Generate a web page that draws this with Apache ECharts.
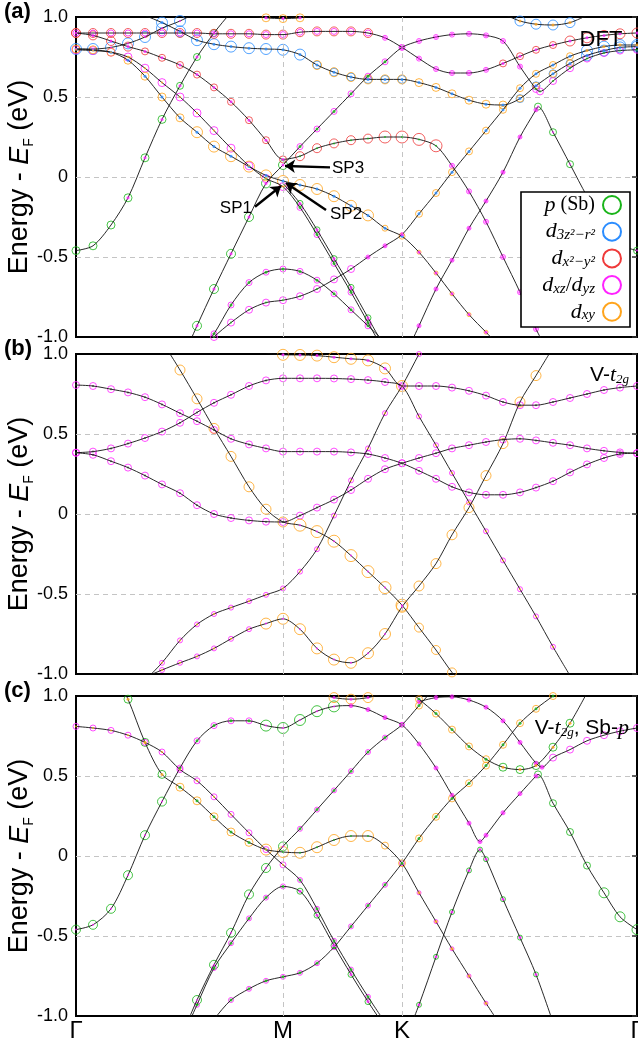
<!DOCTYPE html>
<html>
<head>
<meta charset="utf-8">
<script src="https://cdn.jsdelivr.net/npm/echarts@6/dist/echarts.min.js"></script>
<style>
  html, body { margin: 0; padding: 0; background: #fff; }
  #chart { width: 638px; height: 1040px; }
</style>
</head>
<body>
<div id="chart"></div>
<script>
// k-path: Γ -> M -> K -> Γ, sampled on a common grid (path length units)
var kGrid = [0, 17, 35, 52, 69, 86, 104, 121, 138, 155, 173, 190, 207,
             224, 241, 258, 275, 292, 309, 326,
             343, 360, 376, 393, 410, 427, 444, 460, 477, 494, 511, 528, 544, 561];
var kTicks = [0, 207, 326, 561];
var kTickNames = ['Γ', 'M', 'K', 'Γ'];
var eTicks = [-1, -0.5, 0, 0.5, 1];

// put read values on the grid starting at index `start`
function seg(start, vals) {
  var a = kGrid.map(function () { return null; });
  vals.forEach(function (v, i) { a[start + i] = v; });
  return a;
}

// ---------- (a) DFT ----------
var aG1 = seg(0, [-0.46, -0.43, -0.30, -0.13, 0.12, 0.36, 0.57, 0.75, 0.90, 1.03, 1.16]);
var aG2 = seg(6, [-1.17, -0.93, -0.70, -0.48, -0.25, -0.04, 0.075, 0.19, 0.30, 0.41, 0.52, 0.63, 0.72, 0.81,
                  0.85, 0.875, 0.89, 0.895, 0.885, 0.85, 0.69, 0.55, 0.60, 0.68, 0.74, 0.775, 0.79, 0.795]);
var aG2X = [[464, 0.535]];
var aR2 = seg(0, [0.90, 0.885, 0.85, 0.815, 0.785, 0.745, 0.70, 0.64, 0.56, 0.47, 0.355, 0.23, 0.11,
                  0.13, 0.18, 0.21, 0.23, 0.24, 0.25, 0.25, 0.235, 0.195, 0.07, -0.09, -0.28, -0.50, -0.72, -0.95, -1.15]);
var aA1 = seg(0, [0.90, 0.90, 0.90, 0.90, 0.90, 0.90, 0.90, 0.90, 0.895, 0.895, 0.895, 0.89, 0.89,
                  0.905, 0.91, 0.91, 0.91, 0.90, 0.87, 0.81,
                  0.74, 0.675, 0.65, 0.65, 0.67, 0.71, 0.755, 0.795, 0.825, 0.85, 0.87, 0.885, 0.895, 0.90]);
var aB1 = seg(0, [0.80, 0.80, 0.81, 0.835, 0.875, 0.93, 0.975, 1.03]);
var aB2 = seg(3, [1.06, 1.01, 0.965, 0.91, 0.855, 0.83, 0.815, 0.805, 0.80, 0.795,
                  0.765, 0.70, 0.655, 0.625, 0.61, 0.61, 0.61,
                  0.59, 0.56, 0.52, 0.48, 0.455, 0.45, 0.49, 0.57, 0.645, 0.71, 0.76, 0.79, 0.81, 0.815]);
var aO1 = seg(0, [0.80, 0.795, 0.78, 0.73, 0.63, 0.50, 0.37, 0.28, 0.19, 0.13, 0.065, 0.01, -0.025,
                  -0.05, -0.075, -0.12, -0.18, -0.24, -0.32, -0.37, -0.47, -0.60, -0.73, -0.86, -0.97, -1.08]);
var aM1 = seg(0, [0.795, 0.79, 0.78, 0.75, 0.68, 0.59, 0.50, 0.40, 0.29, 0.18, 0.07, -0.01, -0.06,
                  -0.19, -0.36, -0.54, -0.72, -0.91, -1.1]);
var aD2 = seg(12, [-0.04, -0.165, -0.33, -0.51, -0.69, -0.88, -1.07]);
var aM3 = seg(7, [-1.12, -1.0, -0.91, -0.83, -0.785, -0.77, -0.745, -0.70, -0.64, -0.575, -0.50, -0.43, -0.36,
                  -0.23, -0.10, 0.03, 0.16, 0.29, 0.42, 0.555, 0.645, 0.70, 0.755, 0.79, 0.815, 0.825, 0.825]);
var aH = seg(7, [-1.12, -0.98, -0.80, -0.66, -0.595, -0.575, -0.59, -0.645, -0.73, -0.83, -0.93, -1.03]);
var aP = seg(19, [-1.16, -0.93, -0.70, -0.52, -0.32, -0.15, 0.03, 0.25, 0.42, 0.28, 0.08, -0.12, -0.29, -0.42, -0.46]);
var aPX = [[462, 0.44]];
var aBT = seg(25, [1.02, 0.975, 0.955, 0.95, 0.965, 1.01]);
var aOT = seg(10, [1.01, 0.995, 0.99, 0.995, 1.01]);

// orbital weights: [k from, k to, orbital, circle size]  (size <= 3 -> small filled dot)
var aG1W = [[0, 100, 'p', 8], [101, 170, 'p', 7], [40, 170, 'xz', 3]];
var aG2W = [[100, 207, 'p', 9], [100, 207, 'xz', 3], [208, 326, 'xz', 6], [208, 326, 'p', 3],
            [327, 455, 'xz', 5], [327, 455, 'xz', 3], [456, 561, 'xz', 7], [456, 561, 'p', 2]];
var aR2W = [[0, 60, 'x2', 9], [61, 207, 'x2', 7], [0, 207, 'xz', 3], [208, 300, 'x2', 9], [301, 370, 'x2', 12],
            [208, 370, 'p', 2], [371, 470, 'xz', 5], [371, 470, 'xz', 3]];
var aA1W = [[0, 300, 'x2', 9], [0, 300, 'xz', 6], [301, 420, 'xz', 5], [301, 561, 'xz', 3],
            [421, 490, 'x2', 7], [491, 561, 'x2', 10]];
var aB1W = [[0, 130, 'z2', 11], [0, 130, 'xz', 2]];
var aB2W = [[40, 240, 'z2', 11], [241, 330, 'z2', 8], [241, 330, 'xy', 9], [331, 430, 'xy', 8],
            [431, 500, 'xy', 7], [431, 500, 'z2', 8], [501, 561, 'z2', 11], [40, 561, 'z2', 3]];
var aO1W = [[0, 120, 'xy', 8], [121, 300, 'xy', 11], [301, 330, 'xy', 6], [0, 330, 'z2', 3],
            [331, 440, 'xy', 4], [331, 440, 'xz', 3]];
var aM1W = [[0, 207, 'xz', 8], [0, 207, 'xy', 2], [208, 320, 'xz', 6], [208, 320, 'p', 3]];
var aD2W = [[208, 320, 'p', 6], [208, 320, 'xz', 3]];
var aM3W = [[110, 280, 'xz', 7], [110, 280, 'p', 2], [281, 326, 'xz', 4], [281, 326, 'xz', 3],
            [327, 500, 'xy', 7], [327, 500, 'z2', 3], [501, 561, 'z2', 11], [501, 561, 'xy', 3]];
var aHW = [[110, 320, 'xz', 6], [110, 320, 'p', 3]];
var aPW = [[320, 461, 'xz', 4], [320, 461, 'xz', 3], [462, 561, 'p', 7], [462, 561, 'xz', 2]];
var aBTW = [[420, 520, 'z2', 10], [420, 520, 'xy', 3]];
var aOTW = [[160, 250, 'xy', 8], [160, 250, 'xz', 3]];

// ---------- (b) V-t2g ----------
var bB1 = seg(0, [0.806, 0.80, 0.78, 0.76, 0.73, 0.685, 0.63, 0.58, 0.525, 0.47, 0.435, 0.41, 0.39,
                  0.39, 0.39, 0.39, 0.385, 0.375, 0.35, 0.317,
                  0.27, 0.22, 0.17, 0.135, 0.12, 0.12, 0.135, 0.165, 0.205, 0.26, 0.31, 0.35, 0.375, 0.38]);
var bB2 = seg(0, [0.383, 0.37, 0.33, 0.29, 0.24, 0.185, 0.13, 0.055, 0.0, -0.025, -0.04, -0.048, -0.05,
                  -0.01, 0.04, 0.09, 0.15, 0.22, 0.28, 0.317,
                  0.35, 0.38, 0.41, 0.43, 0.45, 0.465, 0.47, 0.46, 0.445, 0.43, 0.41, 0.395, 0.385, 0.38]);
var bB3 = seg(0, [0.383, 0.39, 0.41, 0.44, 0.475, 0.515, 0.57, 0.635, 0.695, 0.745, 0.80, 0.835, 0.848,
                  0.848, 0.848, 0.847, 0.843, 0.837, 0.825, 0.80,
                  0.61, 0.43, 0.256, 0.073, -0.108, -0.29, -0.47, -0.64, -0.83, -1.01]);
var bB4 = seg(4, [-1.04, -0.93, -0.79, -0.69, -0.625, -0.585, -0.545, -0.505, -0.465,
                  -0.36, -0.22, -0.01, 0.21, 0.41, 0.63, 0.80, 1.0, 1.2]);
var bB5 = seg(11, [1.005, 0.995, 0.994, 0.99, 0.98, 0.97, 0.96, 0.91, 0.80,
                   0.80, 0.80, 0.79, 0.77, 0.74, 0.70, 0.68, 0.68, 0.70, 0.725, 0.75, 0.775, 0.79, 0.80]);
var bO1 = seg(5, [1.08, 0.90, 0.72, 0.535, 0.36, 0.17, 0.03, -0.05,
                  -0.07, -0.11, -0.17, -0.26, -0.36, -0.46, -0.57, -0.71, -0.85, -0.99, -1.12]);
var bO3 = seg(4, [-1.02, -0.975, -0.93, -0.89, -0.84, -0.78, -0.72, -0.685, -0.655,
                  -0.72, -0.84, -0.91, -0.93, -0.87, -0.75, -0.58,
                  -0.45, -0.31, -0.13, 0.04, 0.24, 0.44, 0.70, 0.865, 1.04]);

var bB1W = [[0, 561, 'xz', 7], [0, 561, 'k', 2]];
var bB2W = [[0, 561, 'xz', 7], [0, 561, 'k', 2]];
var bB3W = [[0, 326, 'xz', 7], [0, 326, 'k', 2], [327, 561, 'xz', 5], [327, 561, 'xy', 2]];
var bB4W = [[0, 561, 'xz', 5], [0, 561, 'xy', 2]];
var bB5W = [[180, 326, 'xy', 11], [180, 326, 'xz', 3], [327, 561, 'xz', 7], [327, 561, 'k', 2]];
var bO1W = [[80, 207, 'xy', 10], [208, 326, 'xy', 12], [208, 326, 'xz', 2], [327, 400, 'xy', 9]];
var bO3W = [[60, 180, 'xz', 5], [60, 180, 'xy', 2], [181, 326, 'xy', 11], [181, 326, 'xz', 2], [327, 480, 'xy', 10]];

// ---------- (c) V-t2g, Sb-p ----------
var cG1 = seg(0, [-0.46, -0.43, -0.33, -0.12, 0.13, 0.34, 0.55, 0.72, 0.815, 0.845, 0.845, 0.815, 0.80,
                  0.85, 0.905, 0.935, 0.94, 0.915, 0.865, 0.82,
                  0.70, 0.55, 0.38, 0.205, 0.13, 0.27, 0.39, 0.50, 0.33, 0.15, -0.06, -0.23, -0.38, -0.46]);
var cG1X = [[404, 0.09], [462, 0.51]];
var cG2 = seg(6, [-1.15, -0.90, -0.68, -0.48, -0.24, -0.075, 0.06, 0.17, 0.29, 0.41, 0.53, 0.65, 0.74, 0.82, 0.94, 1.06]);
var cM1 = seg(0, [0.81, 0.80, 0.785, 0.755, 0.71, 0.65, 0.54, 0.47, 0.37, 0.26, 0.145, 0.04, -0.055,
                  -0.15, -0.33, -0.53, -0.71, -0.88, -1.04]);
var cH = seg(6, [-1.17, -0.93, -0.70, -0.545, -0.39, -0.26, -0.19, -0.22, -0.37, -0.56, -0.74, -0.91, -1.07]);
var cM3 = seg(7, [-1.15, -1.02, -0.90, -0.83, -0.78, -0.755, -0.73, -0.67, -0.57, -0.44, -0.31, -0.18, -0.045,
                  0.11, 0.245, 0.36, 0.455, 0.565, 0.695, 0.83, 0.92, 1.0, 1.08]);
var cO1 = seg(2, [1.19, 0.98, 0.71, 0.51, 0.43, 0.345, 0.245, 0.15, 0.085, 0.04, 0.025,
                  0.02, 0.055, 0.10, 0.125, 0.125, 0.065, -0.045, -0.23, -0.41, -0.58, -0.75, -0.92, -1.08]);
var cOT = seg(14, [1.02, 0.99, 0.98, 0.99, 1.02]);
var cA = seg(20, [0.965, 0.99, 0.995, 0.975, 0.93, 0.845, 0.71, 0.58, 0.615, 0.665, 0.72, 0.755, 0.78, 0.80]);
var cAX = [[466, 0.555]];
var cGR = seg(19, [1.07, 0.98, 0.89, 0.79, 0.685, 0.605, 0.555, 0.54, 0.565, 0.68, 0.83, 1.02]);
var cL = seg(19, [-1.2, -0.93, -0.63, -0.35, -0.09, -0.02, -0.27, -0.51, -0.74, -1.04]);
var cLX = [[404, 0.04]];

var cG1W = [[0, 95, 'p', 9], [0, 95, 'xz', 2], [96, 180, 'xz', 6], [96, 180, 'p', 3], [181, 265, 'p', 11],
            [181, 265, 'xz', 2], [266, 461, 'xz', 4], [266, 461, 'xz', 3], [462, 520, 'p', 7], [521, 561, 'p', 10]];
var cG2W = [[100, 207, 'p', 9], [100, 207, 'xz', 2], [208, 326, 'xz', 5], [208, 326, 'p', 3],
            [327, 370, 'xy', 7], [327, 370, 'p', 3]];
var cM1W = [[0, 207, 'xz', 6], [0, 207, 'xy', 2], [208, 320, 'xz', 5], [208, 320, 'p', 3]];
var cHW = [[100, 207, 'xz', 5], [100, 207, 'p', 3], [208, 320, 'p', 6], [208, 320, 'xz', 3]];
var cM3W = [[120, 326, 'xz', 5], [120, 326, 'p', 3], [327, 480, 'xy', 7], [327, 480, 'p', 3]];
var cO1W = [[30, 100, 'p', 8], [30, 100, 'xy', 3], [101, 180, 'xy', 8], [101, 180, 'p', 3], [181, 300, 'xy', 11],
            [181, 300, 'p', 2], [301, 326, 'xy', 7], [327, 440, 'xz', 4], [327, 440, 'xy', 3]];
var cOTW = [[230, 320, 'xy', 10], [230, 320, 'xz', 3]];
var cAW = [[330, 466, 'xz', 4], [330, 466, 'xz', 3], [467, 561, 'xz', 7]];
var cGRW = [[320, 420, 'xy', 7], [320, 420, 'p', 3], [421, 520, 'p', 8], [421, 520, 'xy', 3]];
var cLW = [[320, 480, 'p', 5], [320, 480, 'xz', 3]];

var orbColors = { p: '#19b419', z2: '#2b8dff', x2: '#ef3a3a', xz: '#ff22ff', xy: '#ffa41c', k: '#333333' };
var orbOrder = ['p', 'z2', 'x2', 'xz', 'xy', 'k'];

var panels = [
  [[aB1, null, aB1W], [aB2, null, aB2W], [aA1, null, aA1W], [aR2, null, aR2W], [aG1, null, aG1W],
   [aG2, aG2X, aG2W], [aO1, null, aO1W], [aM1, null, aM1W], [aD2, null, aD2W], [aM3, null, aM3W],
   [aH, null, aHW], [aP, aPX, aPW], [aBT, null, aBTW], [aOT, null, aOTW]],
  [[bB1, null, bB1W], [bB2, null, bB2W], [bB3, null, bB3W], [bB4, null, bB4W], [bB5, null, bB5W],
   [bO1, null, bO1W], [bO3, null, bO3W]],
  [[cG1, cG1X, cG1W], [cG2, null, cG2W], [cM1, null, cM1W], [cH, null, cHW], [cM3, null, cM3W],
   [cO1, null, cO1W], [cOT, null, cOTW], [cA, cAX, cAW], [cGR, null, cGRW], [cL, cLX, cLW]]
];
var gridTops = [17, 354, 696];

function bandPoints(e, extra) {
  var pts = [];
  e.forEach(function (v, i) { if (v !== null) pts.push([kGrid[i], v]); });
  (extra || []).forEach(function (p) { pts.push(p); });
  pts.sort(function (a, b) { return a[0] - b[0]; });
  return pts;
}

var dash = { type: [5, 4], color: '#c4c4c4', width: 1 };
var grids = [], xAxes = [], yAxes = [], series = [];

panels.forEach(function (bands, gi) {
  grids.push({ left: 76, top: gridTops[gi], width: 561, height: 320, show: true, outerBoundsMode: 'none',
               containLabel: false, borderColor: '#000', borderWidth: 2, backgroundColor: 'transparent' });
  xAxes.push({
    gridIndex: gi, type: 'value', min: 0, max: 561,
    axisLine: { show: false }, axisTick: { show: false }, splitLine: { show: false },
    axisLabel: gi === 2 ? {
      customValues: kTicks, fontSize: 24, color: '#000', margin: 3,
      formatter: function (v) { var i = kTicks.indexOf(v); return i < 0 ? '' : kTickNames[i]; }
    } : { show: false }
  });
  yAxes.push({
    gridIndex: gi, type: 'value', min: -1, max: 1, interval: 0.5,
    axisLine: { show: false }, axisTick: { show: false },
    splitLine: { show: true, showMinLine: false, showMaxLine: false, lineStyle: dash },
    axisLabel: { fontSize: 18, color: '#000', margin: 8,
                 formatter: function (v) { return v === 0 ? '0' : v.toFixed(1); } },
    name: 'Energy - {i|E}{s|F} (eV)', nameLocation: 'middle', nameGap: 40, nameMoveOverlap: false,
    nameTextStyle: { fontSize: 27, color: '#000', lineHeight: 32,
      rich: { i: { fontSize: 27, fontStyle: 'italic', color: '#000', lineHeight: 32 },
              s: { fontSize: 14, color: '#000', verticalAlign: 'bottom', lineHeight: 17 } } }
  });
  yAxes.push({
    gridIndex: gi, type: 'value', min: -1, max: 1, interval: 0.5, position: 'right',
    axisLine: { show: false }, axisLabel: { show: false }, splitLine: { show: false },
    axisTick: { show: true, inside: true, length: 5, lineStyle: { color: '#333', width: 1.5 } }
  });

  // vertical guides at M and K
  series.push({
    type: 'line', xAxisIndex: gi, yAxisIndex: 2 * gi, data: [[0, -5]], showSymbol: false,
    lineStyle: { opacity: 0 }, silent: true, z: 1,
    markLine: { silent: true, symbol: ['none', 'none'], label: { show: false },
                lineStyle: dash, data: [{ xAxis: kTicks[1] }, { xAxis: kTicks[2] }] }
  });

  var rings = {}, dots = {};
  orbOrder.forEach(function (o) { rings[o] = []; dots[o] = []; });

  bands.forEach(function (b) {
    var pts = bandPoints(b[0], b[1]);
    series.push({
      type: 'line', xAxisIndex: gi, yAxisIndex: 2 * gi, data: pts, showSymbol: false,
      smooth: 0.3, silent: true, z: 4, lineStyle: { color: '#111', width: 0.9 }
    });
    pts.forEach(function (p) {
      b[2].forEach(function (w) {
        if (p[0] >= w[0] && p[0] <= w[1]) {
          (w[3] > 3 ? rings : dots)[w[2]].push([p[0], p[1], w[3]]);
        }
      });
    });
  });

  orbOrder.forEach(function (o) {
    if (rings[o].length) {
      series.push({
        type: 'scatter', xAxisIndex: gi, yAxisIndex: 2 * gi, data: rings[o], silent: true, z: 3,
        symbol: 'circle', symbolSize: function (v) { return v[2]; },
        itemStyle: { color: 'rgba(0,0,0,0)', borderColor: orbColors[o], borderWidth: 1 }
      });
    }
  });
  orbOrder.forEach(function (o) {
    if (dots[o].length) {
      series.push({
        type: 'scatter', xAxisIndex: gi, yAxisIndex: 2 * gi, data: dots[o], silent: true, z: 5,
        symbol: 'circle', symbolSize: function (v) { return v[2]; },
        itemStyle: { color: orbColors[o] }
      });
    }
  });
});

// SP arrows in panel (a)
series.push({
  type: 'line', xAxisIndex: 0, yAxisIndex: 0, data: [[0, -5]], showSymbol: false,
  lineStyle: { opacity: 0 }, silent: true, z: 20,
  markLine: {
    silent: true, symbol: ['none', 'arrow'], symbolSize: 10, label: { show: false },
    lineStyle: { color: '#000', width: 2.4, type: 'solid' },
    data: [
      [{ coord: [254, 0.06] }, { coord: [209, 0.069] }],
      [{ coord: [250, -0.206] }, { coord: [210, -0.038] }],
      [{ coord: [179, -0.186] }, { coord: [205, -0.056] }]
    ]
  }
});

var serif = 'Liberation Serif, DejaVu Serif, serif';
function legendRow(i, txt, color) {
  var y = 205 + i * 26.7;
  return [
    { type: 'text', z: 101, style: { x: 595, y: y, text: txt, align: 'right', verticalAlign: 'middle',
        fill: '#000', fontFamily: serif, fontSize: 20,
        rich: { i: { fontStyle: 'italic', fontFamily: serif, fontSize: 22 },
                s: { fontStyle: 'italic', fontFamily: serif, fontSize: 15, verticalAlign: 'bottom', lineHeight: 17 },
                n: { fontFamily: serif, fontSize: 21 } } } },
    { type: 'circle', z: 101, shape: { cx: 612, cy: y, r: 9 },
      style: { fill: 'none', stroke: color, lineWidth: 2 } }
  ];
}

var graphics = [
  { type: 'text', left: 4, top: 1, style: { text: '(a)', font: 'bold 22px Liberation Sans', fill: '#000' } },
  { type: 'text', left: 4, top: 338, style: { text: '(b)', font: 'bold 22px Liberation Sans', fill: '#000' } },
  { type: 'text', left: 4, top: 680, style: { text: '(c)', font: 'bold 22px Liberation Sans', fill: '#000' } },
  { type: 'text', z: 50, style: { x: 601, y: 40, text: 'DFT', align: 'center', verticalAlign: 'middle',
      font: '22px Liberation Sans', fill: '#000' } },
  { type: 'text', z: 50, style: { x: 629, y: 375, align: 'right', verticalAlign: 'middle', fill: '#000',
      text: '{a|V-}{t|t}{s|2g}',
      rich: { a: { fontSize: 21, fontFamily: 'Liberation Sans' },
              t: { fontSize: 22, fontStyle: 'italic', fontFamily: serif },
              s: { fontSize: 13, fontStyle: 'italic', fontFamily: serif, verticalAlign: 'bottom', lineHeight: 16 } } } },
  { type: 'text', z: 50, style: { x: 629, y: 728, align: 'right', verticalAlign: 'middle', fill: '#000',
      text: '{a|V-}{t|t}{s|2g}{a|, Sb-}{t|p}',
      rich: { a: { fontSize: 21, fontFamily: 'Liberation Sans' },
              t: { fontSize: 22, fontStyle: 'italic', fontFamily: serif },
              s: { fontSize: 13, fontStyle: 'italic', fontFamily: serif, verticalAlign: 'bottom', lineHeight: 16 } } } },
  { type: 'text', z: 50, style: { x: 332, y: 168, text: 'SP3', verticalAlign: 'middle', font: '17px Liberation Sans', fill: '#000' } },
  { type: 'text', z: 50, style: { x: 330, y: 214, text: 'SP2', verticalAlign: 'middle', font: '17px Liberation Sans', fill: '#000' } },
  { type: 'text', z: 50, style: { x: 252, y: 208, text: 'SP1', align: 'right', verticalAlign: 'middle', font: '17px Liberation Sans', fill: '#000' } },
  { type: 'rect', z: 100, shape: { x: 521, y: 192, width: 109, height: 135 },
    style: { fill: '#fff', stroke: '#000', lineWidth: 1.6 } }
];
graphics = graphics
  .concat(legendRow(0, '{i|p} (Sb)', orbColors.p))
  .concat(legendRow(1, '{i|d}{s|3z²−r²}', orbColors.z2))
  .concat(legendRow(2, '{i|d}{s|x²−y²}', orbColors.x2))
  .concat(legendRow(3, '{i|d}{s|xz}{n|/}{i|d}{s|yz}', orbColors.xz))
  .concat(legendRow(4, '{i|d}{s|xy}', orbColors.xy));

var myChart = echarts.init(document.getElementById('chart'));
myChart.setOption({
  animation: false,
  backgroundColor: '#fff',
  textStyle: { fontFamily: 'Liberation Sans, Arial, sans-serif' },
  grid: grids,
  xAxis: xAxes,
  yAxis: yAxes,
  series: series,
  graphic: graphics
});
</script>
</body>
</html>
